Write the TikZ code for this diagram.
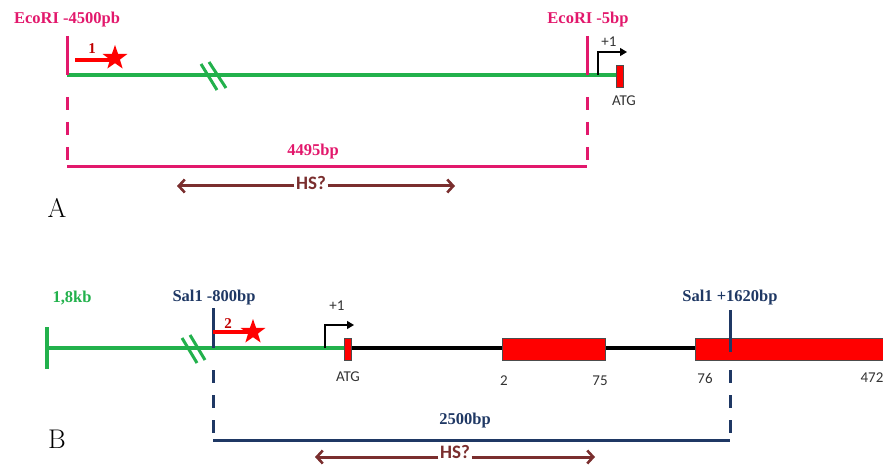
\documentclass[tikz,border=0pt]{standalone}
\usepackage{fontspec}
\setmainfont{Liberation Serif}
\newfontfamily\calfont{Carlito}
\newfontfamily\lmfont{Latin Modern Roman}
\usetikzlibrary{arrows.meta,shapes.geometric}
\definecolor{ecopink}{HTML}{E2186C}
\definecolor{dnagreen}{HTML}{22B14C}
\definecolor{salnavy}{HTML}{1F3864}
\definecolor{hsbrown}{HTML}{7A2E2E}
\definecolor{probered}{HTML}{C00000}
\tikzset{
  sitelabel/.style={font=\bfseries\fontsize{16.5}{18}\selectfont, inner sep=0pt},
  smalllabel/.style={font=\calfont\fontsize{15}{17}\selectfont, inner sep=0pt, text=black!80},
  hslabel/.style={font=\calfont\bfseries\fontsize{19}{21}\selectfont, text=hsbrown, inner sep=1.5pt, fill=white},
  hsarrow/.style={draw=hsbrown, line width=3pt, -{Straight Barb[length=6pt,width=13pt,line width=2.6pt]}},
  dnaline/.style={dnagreen, line width=3.5pt},
  cutmark/.style={dnagreen, line width=3pt},
  probe/.style={red, line width=3.5pt},
  probestar/.style={star, star points=5, star point ratio=2.5, fill=red, minimum size=26pt, inner sep=0pt},
  tss/.style={black, line width=1.3pt, -{Triangle[length=7pt,width=8pt]}},
  atgbox/.style={draw=black!70, fill=red, line width=0.6pt},
  exon/.style={draw=black!70, fill=red, line width=0.6pt},
  panel/.style={font=\lmfont\fontsize{27}{29}\selectfont, inner sep=0pt},
}
\begin{document}
\begin{tikzpicture}[x=1pt, y=-1pt]
\useasboundingbox (0,0) rectangle (883,465);

% ---------------- Panel A: EcoRI fragment ----------------
\coordinate (eL) at (67,75);
\coordinate (eR) at (587,75);
\coordinate (atgA) at (620,75);
\draw[dnaline] (eL) -- (atgA);
% break in the sequence
\draw[cutmark] (201,64) -- (217,90);
\draw[cutmark] (209,62) -- (226,88);
% EcoRI sites
\draw[ecopink, line width=3pt] (67,36) -- (eL);
\draw[ecopink, line width=3pt] (587,36) -- (eR);
\draw[ecopink, line width=3pt, dash pattern=on 13pt off 12pt] (67,97) -- (67,167);
\draw[ecopink, line width=3pt, dash pattern=on 13pt off 12pt] (587,97) -- (587,167);
\coordinate (bA1) at (67,167);
\coordinate (bA2) at (587,167);
\draw[ecopink, line width=3pt] (bA1) -- (bA2);
\node[sitelabel, text=ecopink] (ecoL) at (67,20) {EcoRI -4500pb};
\node[sitelabel, text=ecopink] (ecoR) at (588,20) {EcoRI -5bp};
\node[sitelabel, text=ecopink] (lenA) at (313,152) {4495bp};
% probe 1
\node[probestar] (starA) at (115,58) {};
\coordinate (p1) at (75,60);
\draw[probe] (p1) -- (p1 -| starA.center);
\node[sitelabel, text=probered, font=\bfseries\fontsize{15}{17}\selectfont] (p1lab) at (92,49) {1};
% transcription start and ATG
\coordinate (tssA) at (598,75);
\draw[tss] (tssA) -- (598,52) -- (627,52);
\node[smalllabel] (plusA) at (609,42) {+1};
\node[atgbox, minimum width=7pt, minimum height=22pt, inner sep=0pt] (atgboxA) at (620,76) {};
\node[smalllabel] (atgAl) at (624,101) {ATG};
% HS? range
\node[hslabel] (hsA) at (311,183) {HS?};
\coordinate (hsAl) at (177,186);
\coordinate (hsAr) at (455,186);
\draw[hsarrow] (hsA.west |- hsAl) -- (hsAl);
\draw[hsarrow] (hsA.east |- hsAr) -- (hsAr);
\node[panel] (A) at (57,208) {A};

% ---------------- Panel B: SalI fragment ----------------
\coordinate (gL) at (47,348);
\coordinate (sL) at (213,348);
\coordinate (sR) at (730,348);
\coordinate (atgB) at (348,348);
\draw[black, line width=4pt] (atgB) -- (883,348);
\draw[dnaline] (gL) -- (atgB);
\draw[dnagreen, line width=3.5pt] (47,327) -- (47,369);
\draw[cutmark] (182,338) -- (197,363);
\draw[cutmark] (190,335) -- (205,360);
\node[sitelabel, text=dnagreen] (kb) at (72,298) {1,8kb};
% exons
\node[exon, minimum width=103pt, minimum height=22pt, inner sep=0pt, anchor=west] (ex2) at (502,349) {};
\node[exon, minimum width=190pt, minimum height=22pt, inner sep=0pt, anchor=west] (ex3) at (695,349) {};
\node[smalllabel] (n2) at (504,381) {2};
\node[smalllabel] (n75) at (600,381) {75};
\node[smalllabel] (n76) at (705,378) {76};
\node[smalllabel] (n472) at (872,378) {472};
% SalI sites
\draw[salnavy, line width=3pt] (213,308) -- (sL);
\draw[salnavy, line width=3pt] (730,310) -- (730,352);
\draw[salnavy, line width=3pt, dash pattern=on 13pt off 12pt] (213,370) -- (213,440);
\draw[salnavy, line width=3pt, dash pattern=on 13pt off 12pt] (730,370) -- (730,440);
\coordinate (bB1) at (213,440);
\coordinate (bB2) at (730,440);
\draw[salnavy, line width=3pt] (bB1) -- (bB2);
\node[sitelabel, text=salnavy] (salL) at (214,298) {Sal1 -800bp};
\node[sitelabel, text=salnavy] (salR) at (730,298) {Sal1 +1620bp};
\node[sitelabel, text=salnavy] (lenB) at (465,421) {2500bp};
% probe 2
\node[probestar] (starB) at (253,332) {};
\draw[probe] (sL |- starB) -- (starB.center);
\node[sitelabel, text=probered, font=\bfseries\fontsize{15}{17}\selectfont] (p2lab) at (228,324) {2};
% transcription start and ATG
\coordinate (tssB) at (325,348);
\draw[tss] (tssB) -- (325,325) -- (354,325);
\node[smalllabel] (plusB) at (337,306) {+1};
\node[atgbox, minimum width=7pt, minimum height=22pt, inner sep=0pt] (atgboxB) at (348,349) {};
\node[smalllabel] (atgBl) at (348,377) {ATG};
% HS? range
\node[hslabel] (hsB) at (455,452) {HS?};
\coordinate (hsBl) at (315,457);
\coordinate (hsBr) at (595,457);
\draw[hsarrow] (hsB.west |- hsBl) -- (hsBl);
\draw[hsarrow] (hsB.east |- hsBr) -- (hsBr);
\node[panel] (B) at (57,439) {B};
\end{tikzpicture}
\end{document}
